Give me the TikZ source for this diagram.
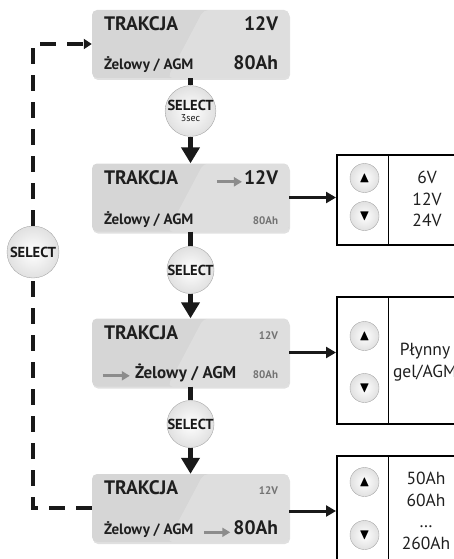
\documentclass[tikz,border=0pt]{standalone}
\usepackage{amssymb}
\usepackage{fontspec}
\setmainfont{PT Sans}
\usetikzlibrary{positioning,arrows.meta,shadows,calc}

\begin{document}
\begin{tikzpicture}[x=1pt,y=1pt,
    lcd/.style={rounded corners=5pt, fill=black!16, minimum width=197pt, minimum height=68pt,
        drop shadow={shadow xshift=1pt, shadow yshift=-2pt, opacity=.3, fill=black!40},
        path picture={\fill[white,opacity=.2] ($(path picture bounding box.north)+(13,0)$)
            -- (path picture bounding box.north east) -- (path picture bounding box.south east)
            -- ($(path picture bounding box.south)+(-23,0)$) -- cycle;}},
    tbig/.style={font=\fontsize{19.5}{21}\selectfont\bfseries, text=black!88, inner sep=0pt},
    tmid/.style={font=\fontsize{15}{16}\selectfont\bfseries, text=black!88, inner sep=0pt},
    tsmall/.style={font=\fontsize{11}{13}\selectfont\bfseries, text=black!55, inner sep=0pt},
    ball/.style={circle, draw=black!35, shading=radial, inner color=white, outer color=black!12,
        minimum size=#1, inner sep=0pt},
    sel/.style={font=\fontsize{14.5}{12}\selectfont\bfseries, text=black!90, align=center},
    panel/.style={draw, line width=1.6pt, minimum width=150pt, anchor=north west, inner sep=0pt},
    ptxt/.style={font=\fontsize{17.5}{21.5}\selectfont, text=black!88, align=center, inner sep=0pt},
    flow/.style={line width=5pt, black!90, -{Triangle[length=16pt,width=18pt]}},
    ptr/.style={line width=3pt, black!90, -{Triangle[length=10pt,width=11pt]}},
    hint/.style={line width=3pt, black!45, -{Triangle[length=8pt,width=9pt]}},
    loopline/.style={line width=3.5pt, black!90, dash pattern=on 16pt off 11pt}]
\clip (0,0) rectangle (454,-559);

% display screens
\foreach \n/\y in {1/44,2/197.5,3/352.5,4/508}
    \node[lcd] (lcd\n) at (190.5,-\y) {};
\foreach \n in {1,...,4}
    \node[tbig,anchor=base west] (trak\n) at ($(lcd\n.north west)+(12,-21)$) {TRAKCJA};

\node[tbig,anchor=base east] (volt1) at ($(lcd1.north east)+(-11,-21)$) {12V};
\node[tmid,anchor=base west] (type1) at ($(lcd1.north west)+(12,-60)$) {Żelowy / AGM};
\node[tbig,anchor=base east] (cap1) at ($(lcd1.north east)+(-11,-60)$) {80Ah};

\node[tbig,anchor=base east] (volt2) at ($(lcd2.north east)+(-11,-21)$) {12V};
\node[tmid,anchor=base west] (type2) at ($(lcd2.north west)+(12,-61)$) {Żelowy / AGM};
\node[tsmall,anchor=base east] (cap2) at ($(lcd2.north east)+(-11,-61)$) {80Ah};
\draw[hint] ($(volt2.mid west)+(-27,0)$) -- ($(volt2.mid west)+(-2,0)$);

\node[tsmall,anchor=base east] (volt3) at ($(lcd3.north east)+(-11,-21)$) {12V};
\node[tbig,font=\fontsize{17}{19}\selectfont\bfseries,anchor=base west] (type3)
    at ($(lcd3.north west)+(43,-60)$) {Żelowy / AGM};
\node[tsmall,anchor=base east] (cap3) at ($(lcd3.north east)+(-11,-60)$) {80Ah};
\draw[hint] ($(type3.mid west)+(-32,0)$) -- ($(type3.mid west)+(-5,0)$);

\node[tsmall,anchor=base east] (volt4) at ($(lcd4.north east)+(-11,-21)$) {12V};
\node[tmid,anchor=base west] (type4) at ($(lcd4.north west)+(12,-61)$) {Żelowy / AGM};
\node[tbig,anchor=base east] (cap4) at ($(lcd4.north east)+(-11,-61)$) {80Ah};
\draw[hint] ($(cap4.mid west)+(-29,0)$) -- ($(cap4.mid west)+(-3,0)$);

% select buttons
\node[ball=46pt,sel] (s1) at (190.5,-111)
    {SELECT\\[-1pt]{\fontsize{10}{10}\selectfont\mdseries 3sec}};
\node[ball=46pt,sel] (s2) at (190.5,-270) {SELECT};
\node[ball=46pt,sel] (s3) at (190.5,-424) {SELECT};
\node[ball=52pt,sel] (s0) at (33,-252) {SELECT};

\draw[line width=5pt,black!90] (lcd1.south) -- (s1.north);
\draw[flow] (s1.south) -- (lcd2.north);
\draw[line width=5pt,black!90] (lcd2.south) -- (s2.north);
\draw[flow] (s2.south) -- (lcd3.north);
\draw[line width=5pt,black!90] (lcd3.south) -- (s3.north);
\draw[flow] (s3.south) -- (lcd4.north);

\draw[loopline] (lcd4.west) -| (s0.south);
\draw[loopline,-{Triangle[length=8pt,width=10pt]}] (s0.north) |- (lcd1.west);

% option panels
\node[panel,minimum height=90pt] (p1) at (336,-154) {};
\node[panel,minimum height=127pt] (p2) at (336,-296) {};
\node[panel,minimum height=140pt] (p3) at (336,-455) {};
\foreach \p in {p1,p2,p3}
    \draw[line width=.9pt] ($(\p.north west)+(52,0)$) -- ($(\p.south west)+(52,0)$);

\foreach \n/\u/\d in {1/178/216,2/336/388,3/482/535}{
    \node[ball=29pt,font=\fontsize{15}{15}\selectfont] (up\n) at (364.5,-\u) {$\blacktriangle$};
    \node[ball=29pt,font=\fontsize{15}{15}\selectfont] (dn\n) at (364.5,-\d) {$\blacktriangledown$};
}

\node[ptxt] (opt1) at (427,-199) {6V\\12V\\24V};
\node[ptxt] (opt2) at (425,-362) {Płynny\\gel/AGM};
\node[ptxt] (opt3) at (426,-511) {50Ah\\60Ah\\\dots\\260Ah};

\coordinate (a4) at ($(lcd4.east)+(0,-3)$);
\draw[ptr] (lcd2.east) -- (lcd2.east -| p1.west);
\draw[ptr] (lcd3.east) -- (lcd3.east -| p2.west);
\draw[ptr] (a4) -- (a4 -| p3.west);
\end{tikzpicture}
\end{document}
